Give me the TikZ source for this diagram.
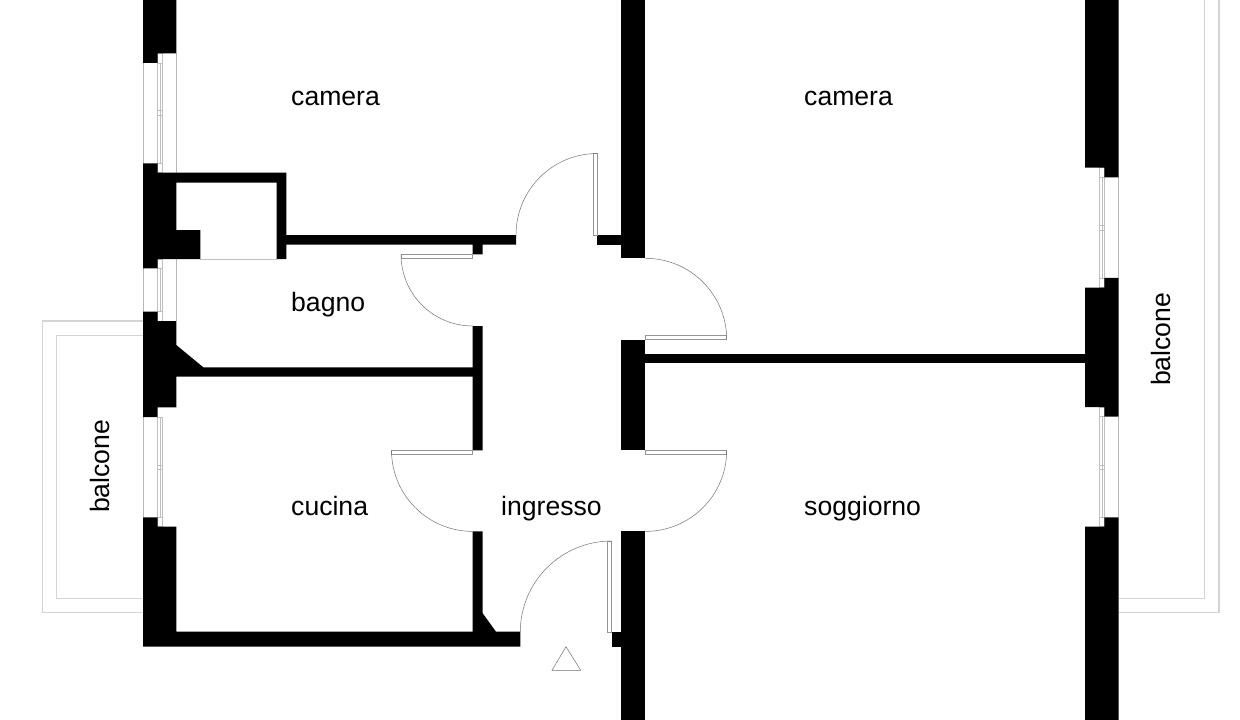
\documentclass[tikz,border=0pt]{standalone}
\usepackage{fontspec}
\setmainfont{Liberation Sans}
\tikzset{
  wall/.style={fill=black,draw=none},
  rail/.style={draw=black!28,line width=0.9pt},
  frame/.style={draw=black!25,line width=0.6pt},
  swing/.style={draw=black!55,line width=0.5pt},
  leaf/.style={draw=black!42,line width=0.6pt},
  balc/.style={draw=black!17,line width=1.1pt},
  room/.style={inner sep=0pt,anchor=base west,font=\fontsize{26.6}{30}\selectfont}
}
\begin{document}
\begin{tikzpicture}[x=1pt,y=-1pt]
\useasboundingbox[fill=white] (0,0) rectangle (1240,720);

% balconies
\draw[balc] (143,321) -- (42.7,321) -- (42.7,612.7) -- (143,612.7);
\draw[balc] (143,335.3) -- (56.7,335.3) -- (56.7,598.7) -- (143,598.7);
\draw[balc] (1204.7,0) -- (1204.7,598.5) -- (1118.7,598.5);
\draw[balc] (1219,0) -- (1219,612.7) -- (1118.7,612.7);

% left windows
\draw[rail] (143,63) -- (143,163.3);
\draw[rail] (176.3,53) -- (176.3,172.7);
\draw[frame] (157.5,53) rectangle (162,172.7);
\draw[frame] (157.5,63) -- (162,63) (157.5,163.3) -- (162,163.3);
\draw[frame] (160,63) -- (160,163.3);
\draw[frame] (157.5,110) -- (162,110) (157.5,115) -- (162,115);

\draw[rail] (143,268.3) -- (143,311.7);
\draw[rail] (176.3,259) -- (176.3,321);
\draw[frame] (157.5,259) rectangle (162,321);
\draw[frame] (157.5,268.3) -- (162,268.3) (157.5,311.7) -- (162,311.7);
\draw[frame] (160,268.3) -- (160,311.7);

\draw[rail] (143,417) -- (143,517.3);
\draw[frame] (157.5,417) rectangle (162.5,517.3);
\draw[frame] (160,417) -- (160,517.3);
\draw[frame] (157.5,465) -- (162.5,465) (157.5,469.5) -- (162.5,469.5);
\draw[frame] (157.5,517.3) -- (157.5,526.7) -- (162.5,526.7) -- (162.5,517.3);

% right windows
\draw[rail] (1118.7,177.3) -- (1118.7,277.8);
\draw[frame] (1099.3,167.7) rectangle (1104.3,287.5);
\draw[frame] (1101.8,177.3) -- (1101.8,277.8);
\draw[frame] (1099.3,177.3) -- (1104.3,177.3) (1099.3,277.8) -- (1104.3,277.8);
\draw[frame] (1099.3,225.3) -- (1104.3,225.3) (1099.3,230.3) -- (1104.3,230.3);

\draw[rail] (1118.7,416.7) -- (1118.7,517.3);
\draw[frame] (1099.3,407) rectangle (1104.3,526.7);
\draw[frame] (1101.8,416.7) -- (1101.8,517.3);
\draw[frame] (1099.3,416.7) -- (1104.3,416.7) (1099.3,517.3) -- (1104.3,517.3);
\draw[frame] (1099.3,465) -- (1104.3,465) (1099.3,469.5) -- (1104.3,469.5);

% closet threshold
\draw[frame] (200.3,259) -- (276.7,259);

% walls: left side
\fill[wall] (143,0) -- (176.3,0) -- (176.3,53.3) -- (157.5,53.3) -- (157.5,62.8) -- (143,62.8) -- cycle;
\fill[wall] (143,163.3) -- (157.5,163.3) -- (157.5,172.7) -- (286.3,172.7) -- (286.3,235) -- (516,235)
  -- (516,244.7) -- (482.7,244.7) -- (482.7,254.3) -- (472.7,254.3) -- (472.7,244.7) -- (286.3,244.7)
  -- (286.3,259) -- (276.7,259) -- (276.7,182.7) -- (176.3,182.7) -- (176.3,230) -- (200.3,230)
  -- (200.3,259) -- (157.5,259) -- (157.5,268.3) -- (143,268.3) -- cycle;
\fill[wall] (143,311.7) -- (157.5,311.7) -- (157.5,321) -- (176.3,321) -- (176.3,345) -- (203.3,367.3)
  -- (472.7,367.3) -- (472.7,326) -- (482.7,326) -- (482.7,450.3) -- (472.7,450.3) -- (472.7,376.7)
  -- (176.3,376.7) -- (176.3,407.3) -- (157.5,407.3) -- (157.5,417) -- (143,417) -- cycle;
\fill[wall] (143,517.3) -- (157.5,517.3) -- (157.5,526.7) -- (176.3,526.7) -- (176.3,631.7) -- (472.7,631.7)
  -- (472.7,531.4) -- (482.7,531.4) -- (482.7,613.3) -- (496,631.7) -- (520.3,631.7) -- (520.3,646.7)
  -- (143,646.7) -- cycle;

% walls: centre
\fill[wall] (621,0) rectangle (645.3,258.3);
\fill[wall] (597.3,235) rectangle (621.5,244.7);
\fill[wall] (621,339.5) rectangle (645.3,450.3);
\fill[wall] (645,353.7) rectangle (1085.5,363.3);
\fill[wall] (621,531.4) rectangle (645.3,720);
\fill[wall] (611.7,632) rectangle (621.5,646.7);

% walls: right side
\fill[wall] (1085,0) -- (1118.7,0) -- (1118.7,177.3) -- (1104.3,177.3) -- (1104.3,167.7) -- (1085,167.7) -- cycle;
\fill[wall] (1104.3,277.8) -- (1118.7,277.8) -- (1118.7,416.7) -- (1104.3,416.7) -- (1104.3,407) -- (1085,407)
  -- (1085,287.5) -- (1104.3,287.5) -- cycle;
\fill[wall] (1104.3,517.3) -- (1118.7,517.3) -- (1118.7,720) -- (1085,720) -- (1085,526.7) -- (1104.3,526.7) -- cycle;

% doors
\draw[leaf] (593.7,153.4) rectangle (597.3,235);
\draw[swing] (516,235) .. controls (516,190) and (552.3,153.5) .. (597.3,153.5);
\draw[leaf] (401,254.3) rectangle (472.7,258.3);
\draw[swing] (401,254.3) .. controls (401,294) and (433,326) .. (472.7,326);
\draw[leaf] (645.3,335.7) rectangle (726.7,339.5);
\draw[swing] (645.3,258.3) .. controls (690.3,258.3) and (726.7,294.5) .. (726.7,339.5);
\draw[leaf] (391.5,450.3) rectangle (472.7,454.3);
\draw[swing] (391.5,450.3) .. controls (391.5,495.3) and (428,531.4) .. (472.7,531.4);
\draw[leaf] (645.3,450.3) rectangle (726.7,454.3);
\draw[swing] (726.7,450.3) .. controls (726.7,495.3) and (690.3,531.4) .. (645.3,531.4);
\draw[leaf] (607.7,541) rectangle (611.7,632);
\draw[swing] (520.3,632) .. controls (520.3,581.6) and (561.3,541) .. (611.7,541);

% entrance mark
\draw[swing] (566,646.7) -- (580.7,670.3) -- (552,670.3) -- cycle;

% labels
\node[room] (cameraA) at (291,105) {camera};
\node[room] (cameraB) at (804,105) {camera};
\node[room] (bagno) at (291,311) {bagno};
\node[room] (cucina) at (291,515) {cucina};
\node[room] (ingresso) at (501,515) {ingresso};
\node[room] (soggiorno) at (804,515) {soggiorno};
\node[room,rotate=90] (balconeL) at (109,513) {balcone};
\node[room,rotate=90] (balconeR) at (1170.5,386) {balcone};
\end{tikzpicture}
\end{document}
